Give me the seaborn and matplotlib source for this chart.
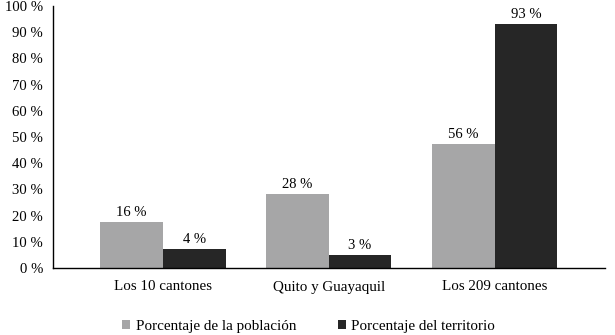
import matplotlib
matplotlib.use('Agg')
import matplotlib.pyplot as plt
import seaborn as sns
import pandas as pd
from matplotlib.ticker import FixedLocator

# Categories and series (bar heights)
groups = ['Los 10 cantones', 'Quito y Guayaquil', 'Los 209 cantones']
series = ['Porcentaje de la población', 'Porcentaje del territorio']
poblacion = [17.6, 28.2, 47.3]
territorio = [7.3, 5.0, 93.1]
# Printed labels on the bars
lab_poblacion = ['16 %', '28 %', '56 %']
lab_territorio = ['4 %', '3 %', '93 %']
yticks = list(range(0, 101, 10))

colors = ['#a6a6a7', '#262626']

df = pd.DataFrame({
    'grupo': groups * 2,
    'serie': [series[0]] * 3 + [series[1]] * 3,
    'valor': poblacion + territorio,
})

sns.set_style('white')
plt.rcParams['font.family'] = ['Liberation Serif', 'DejaVu Serif']
plt.rcParams['text.color'] = 'black'

fig = plt.figure(figsize=(6.15, 3.35), dpi=100)
ax = fig.add_axes([0.086, 0.2, 0.898, 0.782])

sns.barplot(data=df, x='grupo', y='valor', hue='serie', palette=colors,
            width=0.755, saturation=1, ax=ax, edgecolor='none', linewidth=0)

for cont, labs in zip(ax.containers, [lab_poblacion, lab_territorio]):
    ax.bar_label(cont, labels=labs, padding=2, fontsize=10.5, color='black')

ax.set_xlim(-0.664, 2.667)
ax.set_ylim(0, 100)
ax.set_yticks(yticks)
ax.set_yticklabels([f'{v} %' for v in yticks], fontsize=10.6, color='black')
ax.tick_params(axis='y', direction='out', length=4, width=1, color='black', pad=3)
ax.tick_params(axis='x', length=0, labelsize=10.8, labelcolor='black', pad=9)
ax.xaxis.set_minor_locator(FixedLocator([2.667]))
ax.tick_params(axis='x', which='minor', direction='in', length=4, width=1, color='black')
ax.set_xlabel('')
ax.set_ylabel('')

for s in ['top', 'right']:
    ax.spines[s].set_visible(False)
for s in ['left', 'bottom']:
    ax.spines[s].set_color('black')
    ax.spines[s].set_linewidth(1)

ax.legend(loc='upper center', bbox_to_anchor=(0.463, -0.145), ncol=2, frameon=False,
          fontsize=10.9, handlelength=0.55, handleheight=0.55, handletextpad=0.35,
          columnspacing=2.75, labelcolor='black')

fig.savefig('out.png', dpi=100)
